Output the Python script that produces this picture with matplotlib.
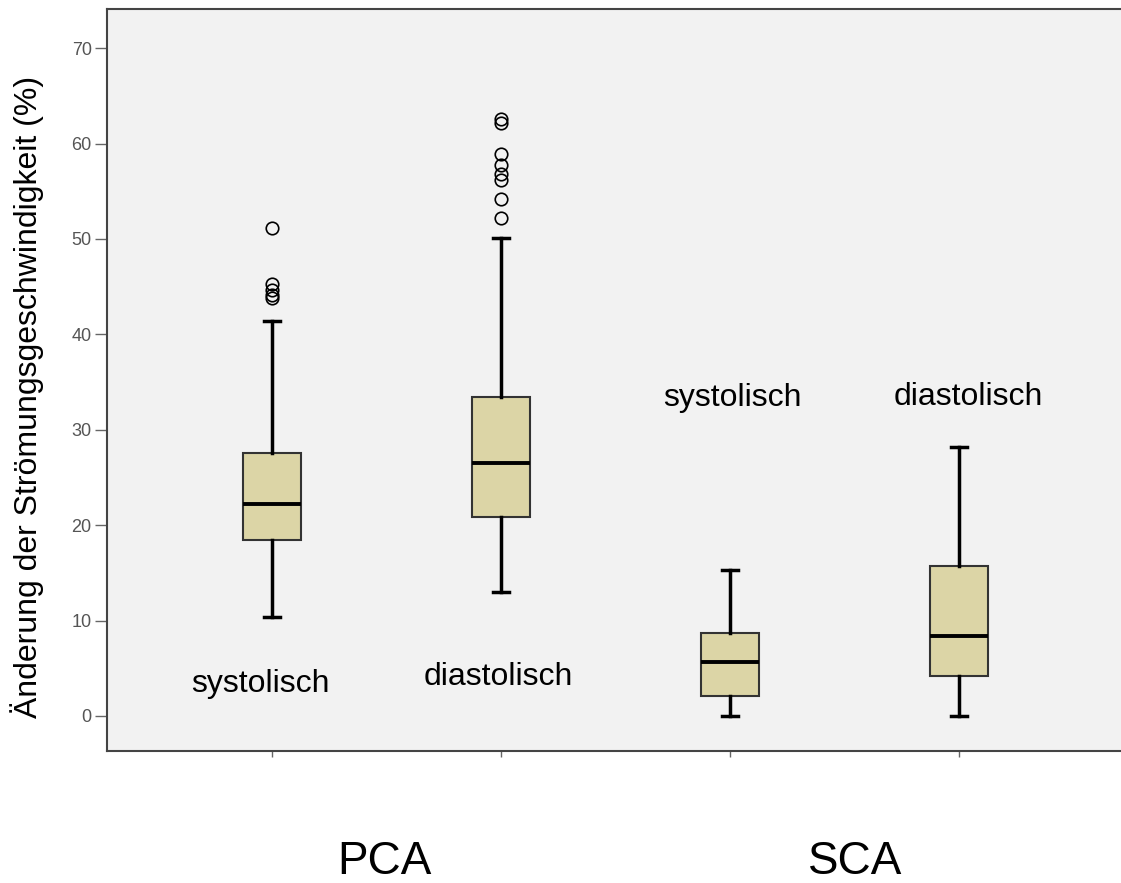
import matplotlib
matplotlib.use("Agg")
import matplotlib.pyplot as plt

plt.rcParams['font.family'] = ['Liberation Sans', 'DejaVu Sans']

# box statistics (percent)
groups = ['PCA systolisch', 'PCA diastolisch', 'SCA systolisch', 'SCA diastolisch']
whislo = [10.4, 13.0, 0.0, 0.0]
q1 = [18.4, 20.9, 2.1, 4.2]
med = [22.2, 26.5, 5.7, 8.4]
q3 = [27.6, 33.4, 8.7, 15.7]
whishi = [41.4, 50.1, 15.3, 28.2]
fliers = [
    [51.1, 45.3, 44.6, 44.1, 43.8],
    [62.6, 62.1, 58.9, 57.7, 56.8, 56.2, 54.2, 52.2],
    [],
    [],
]
inner_labels = ['systolisch', 'diastolisch', 'systolisch', 'diastolisch']
group_names = ['PCA', 'SCA']
yticks = [0, 10, 20, 30, 40, 50, 60, 70]

stats = []
for i in range(len(groups)):
    stats.append(dict(label=groups[i], whislo=whislo[i], q1=q1[i], med=med[i],
                      q3=q3[i], whishi=whishi[i], fliers=fliers[i]))

fig = plt.figure(figsize=(11.21, 8.83), dpi=100)
ax = fig.add_axes([0.0954, 0.1495, 0.93, 0.8403])
ax.set_facecolor('#f2f2f2')

positions = [1, 2, 3, 4]
ax.bxp(stats, positions=positions, widths=0.25, patch_artist=True,
       boxprops=dict(facecolor='#dcd5a6', edgecolor='#333333', linewidth=1.5),
       medianprops=dict(color='black', linewidth=2.8),
       whiskerprops=dict(color='black', linewidth=2.5),
       capprops=dict(color='black', linewidth=2.5),
       capwidths=0.07,
       flierprops=dict(marker='o', markersize=9, markerfacecolor='none',
                       markeredgecolor='black', markeredgewidth=1.2))

ax.set_xlim(0.2795, 4.832)
ax.set_ylim(-3.67, 74.1)
ax.set_yticks(yticks)
ax.set_yticklabels([str(v) for v in yticks])
ax.set_xticks(positions)
ax.set_xticklabels([''] * 4)
ax.tick_params(axis='y', length=9, width=1, color='#666666', labelcolor='#555555',
               labelsize=13, pad=2)
ax.tick_params(axis='x', length=4, width=1, color='#666666')

for side in ['left', 'bottom', 'top']:
    ax.spines[side].set_color('#444444')
    ax.spines[side].set_linewidth(1.5)
ax.spines['right'].set_visible(False)

# labels inside the plot area
label_pos = [(0.95, 3.4), (1.99, 4.1), (3.01, 33.3), (4.04, 33.4)]
for txt, (x, y) in zip(inner_labels, label_pos):
    ax.text(x, y, txt, fontsize=23, ha='center', va='center')

fig.text(0.024, 0.551, 'Änderung der Strömungsgeschwindigkeit (%)', rotation=90,
         fontsize=23, ha='center', va='center')

fig.text(0.343, 0.010, group_names[0], fontsize=33, ha='center', va='baseline')
fig.text(0.763, 0.010, group_names[1], fontsize=33, ha='center', va='baseline')

fig.savefig('out.png', dpi=100)
